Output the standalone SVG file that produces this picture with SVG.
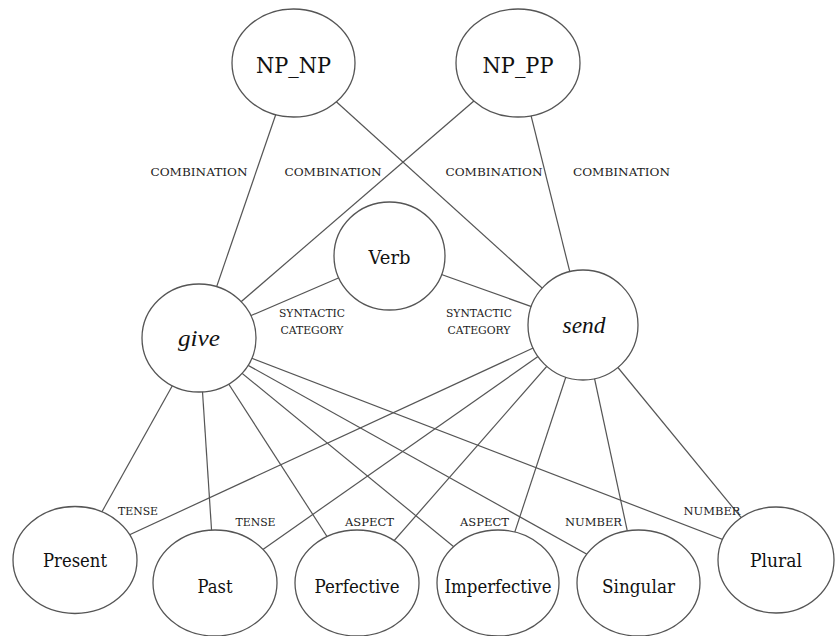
<svg xmlns="http://www.w3.org/2000/svg" width="835" height="636" viewBox="0 0 835 636">
  <style>
    .edge { stroke: #555; stroke-width: 1.2; fill: none; }
    .node ellipse { fill: #fff; stroke: #555; stroke-width: 1.3; }
    text { font-family: "DejaVu Serif", "Liberation Serif", serif; }
    .node text { fill: #111; text-anchor: middle; }
    .big { font-size: 22px; }
    .mid { font-size: 19px; }
    .it { font-size: 23px; font-style: italic; font-family: "Liberation Serif", "DejaVu Serif", serif; }
    .lbl { font-size: 11.5px; fill: #222; text-anchor: middle; }
    .lbl2 { font-size: 11px; fill: #222; text-anchor: middle; }
  </style>

  <rect width="835" height="636" fill="#fff"/>

  <!-- relations, drawn centre to centre beneath the nodes -->
  <g id="edges">
    <line class="edge" x1="293.5" y1="63" x2="199" y2="338"/>
    <line class="edge" x1="293.5" y1="63" x2="583" y2="325"/>
    <line class="edge" x1="518" y1="63" x2="199" y2="338"/>
    <line class="edge" x1="518" y1="63" x2="583" y2="325"/>
    <line class="edge" x1="389.5" y1="256" x2="199" y2="338"/>
    <line class="edge" x1="389.5" y1="256" x2="583" y2="325"/>

    <line class="edge" x1="199" y1="338" x2="75" y2="560"/>
    <line class="edge" x1="199" y1="338" x2="215" y2="583"/>
    <line class="edge" x1="199" y1="338" x2="357" y2="583"/>
    <line class="edge" x1="199" y1="338" x2="498" y2="583"/>
    <line class="edge" x1="199" y1="338" x2="638.5" y2="583"/>
    <line class="edge" x1="199" y1="338" x2="776" y2="560"/>

    <line class="edge" x1="583" y1="325" x2="75" y2="560"/>
    <line class="edge" x1="583" y1="325" x2="215" y2="583"/>
    <line class="edge" x1="583" y1="325" x2="357" y2="583"/>
    <line class="edge" x1="583" y1="325" x2="498" y2="583"/>
    <line class="edge" x1="583" y1="325" x2="638.5" y2="583"/>
    <line class="edge" x1="583" y1="325" x2="776" y2="560"/>
  </g>

  <!-- relation labels -->
  <g id="edge-labels">
    <text class="lbl" x="199" y="175.5" textLength="97" lengthAdjust="spacingAndGlyphs">COMBINATION</text>
    <text class="lbl" x="333" y="175.5" textLength="97" lengthAdjust="spacingAndGlyphs">COMBINATION</text>
    <text class="lbl" x="494" y="175.5" textLength="97" lengthAdjust="spacingAndGlyphs">COMBINATION</text>
    <text class="lbl" x="621.5" y="175.5" textLength="97" lengthAdjust="spacingAndGlyphs">COMBINATION</text>
    <text class="lbl2" x="312" y="317" textLength="66" lengthAdjust="spacingAndGlyphs">SYNTACTIC</text>
    <text class="lbl2" x="312" y="334" textLength="63" lengthAdjust="spacingAndGlyphs">CATEGORY</text>
    <text class="lbl2" x="479" y="317" textLength="66" lengthAdjust="spacingAndGlyphs">SYNTACTIC</text>
    <text class="lbl2" x="479" y="334" textLength="63" lengthAdjust="spacingAndGlyphs">CATEGORY</text>
    <text class="lbl" x="138" y="514.5" textLength="40" lengthAdjust="spacingAndGlyphs">TENSE</text>
    <text class="lbl" x="255.5" y="525.5" textLength="40" lengthAdjust="spacingAndGlyphs">TENSE</text>
    <text class="lbl" x="369.5" y="525.5" textLength="49" lengthAdjust="spacingAndGlyphs">ASPECT</text>
    <text class="lbl" x="484.5" y="525.5" textLength="49" lengthAdjust="spacingAndGlyphs">ASPECT</text>
    <text class="lbl" x="593.5" y="525.5" textLength="57" lengthAdjust="spacingAndGlyphs">NUMBER</text>
    <text class="lbl" x="712" y="514.5" textLength="57" lengthAdjust="spacingAndGlyphs">NUMBER</text>
  </g>

  <g id="np_np" class="node">
    <ellipse cx="293.5" cy="63" rx="61.5" ry="54"/>
    <text class="big" x="293.5" y="73" textLength="75" lengthAdjust="spacingAndGlyphs">NP_NP</text>
  </g>
  <g id="np_pp" class="node">
    <ellipse cx="518" cy="63" rx="62" ry="54"/>
    <text class="big" x="518" y="73" textLength="71" lengthAdjust="spacingAndGlyphs">NP_PP</text>
  </g>
  <g id="verb" class="node">
    <ellipse cx="389.5" cy="256" rx="55.5" ry="54"/>
    <text class="mid" x="389.5" y="264" textLength="42" lengthAdjust="spacingAndGlyphs">Verb</text>
  </g>
  <g id="give" class="node">
    <ellipse cx="199" cy="338" rx="57" ry="54"/>
    <text class="it" x="199" y="346" textLength="42" lengthAdjust="spacingAndGlyphs">give</text>
  </g>
  <g id="send" class="node">
    <ellipse cx="583" cy="325" rx="55" ry="55"/>
    <text class="it" x="584" y="333" textLength="43" lengthAdjust="spacingAndGlyphs">send</text>
  </g>
  <g id="present" class="node">
    <ellipse cx="75" cy="560" rx="62" ry="53.5"/>
    <text class="mid" x="75" y="567" textLength="64" lengthAdjust="spacingAndGlyphs">Present</text>
  </g>
  <g id="past" class="node">
    <ellipse cx="215" cy="583" rx="62" ry="53"/>
    <text class="mid" x="215" y="593" textLength="35" lengthAdjust="spacingAndGlyphs">Past</text>
  </g>
  <g id="perfective" class="node">
    <ellipse cx="357" cy="583" rx="62" ry="53"/>
    <text class="mid" x="357" y="593" textLength="85" lengthAdjust="spacingAndGlyphs">Perfective</text>
  </g>
  <g id="imperfective" class="node">
    <ellipse cx="498" cy="583" rx="61" ry="53"/>
    <text class="mid" x="498" y="593" textLength="107" lengthAdjust="spacingAndGlyphs">Imperfective</text>
  </g>
  <g id="singular" class="node">
    <ellipse cx="638.5" cy="583" rx="61.5" ry="53"/>
    <text class="mid" x="638.5" y="593" textLength="73" lengthAdjust="spacingAndGlyphs">Singular</text>
  </g>
  <g id="plural" class="node">
    <ellipse cx="776" cy="560" rx="58" ry="53"/>
    <text class="mid" x="776" y="567" textLength="52" lengthAdjust="spacingAndGlyphs">Plural</text>
  </g>
</svg>
